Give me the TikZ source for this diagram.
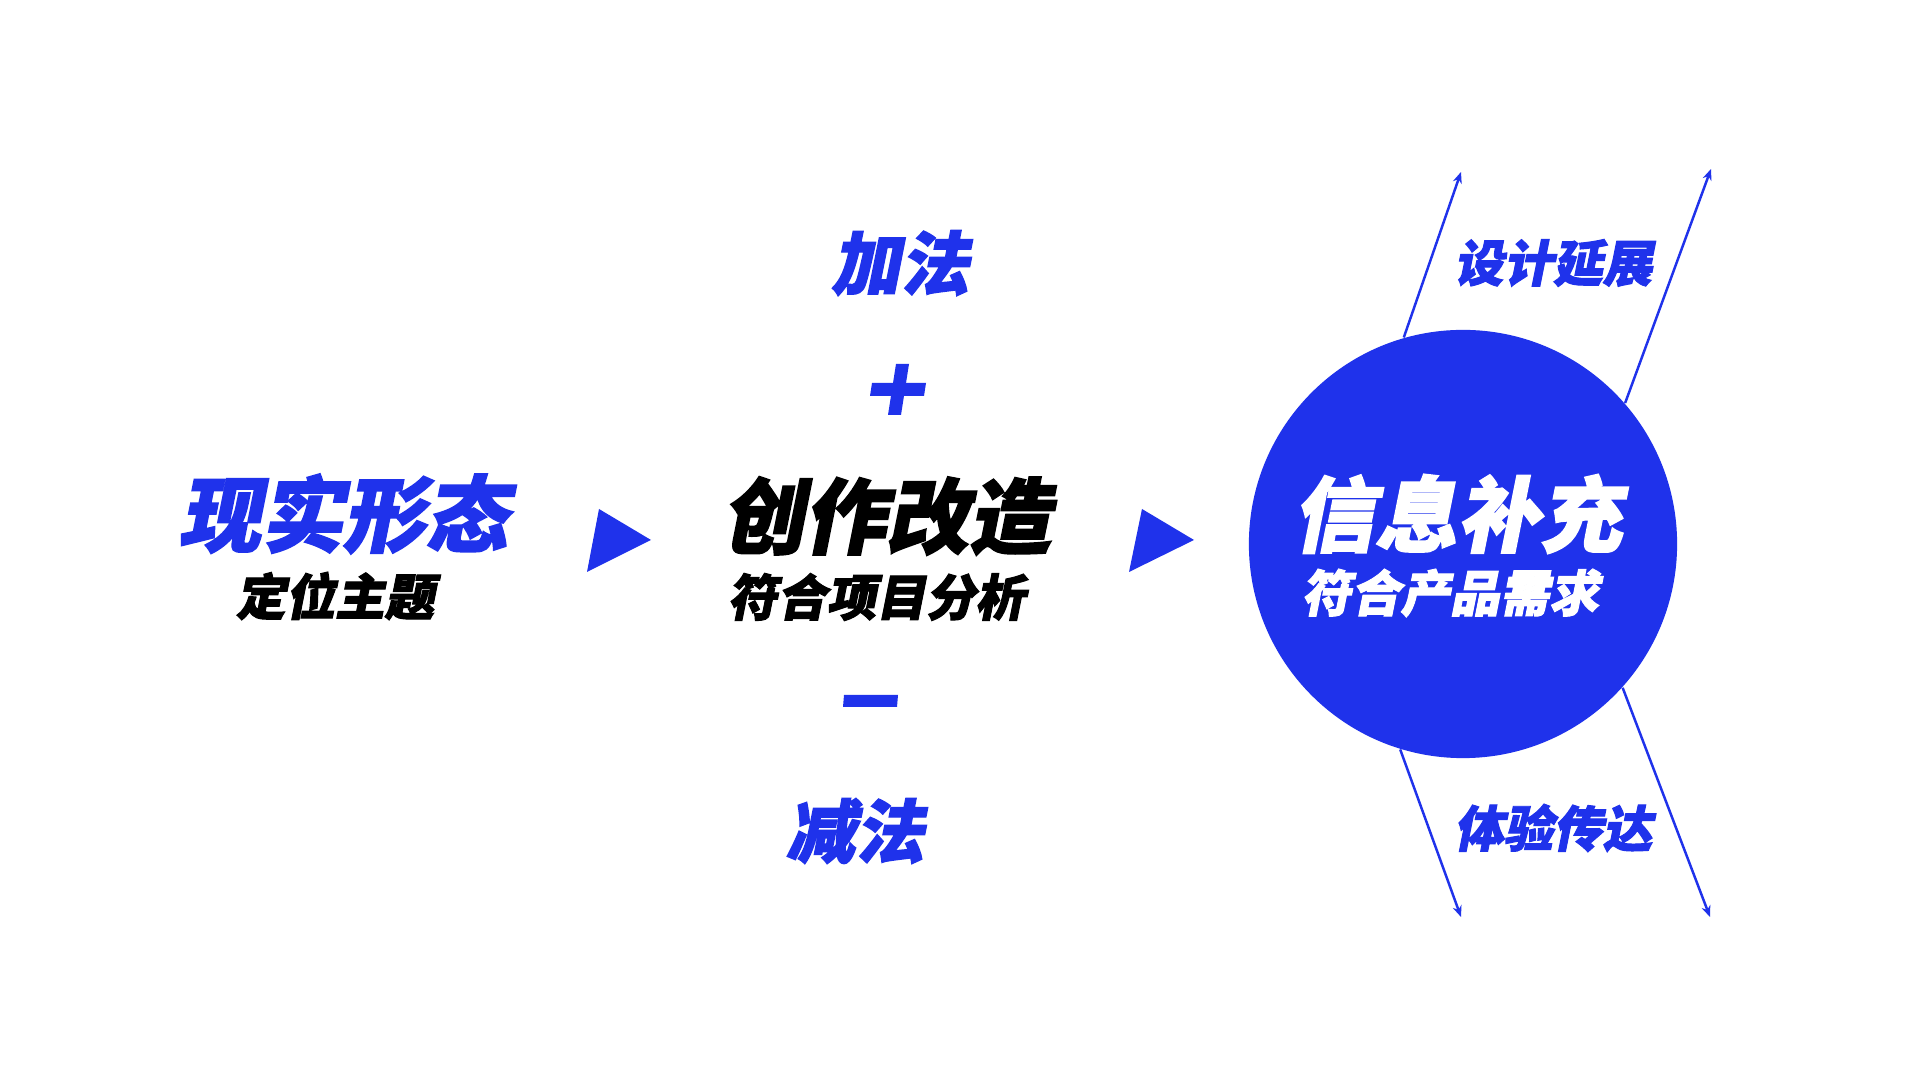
\documentclass[tikz,border=0pt]{standalone}
\usepackage{fontspec}
\newfontfamily\cjk[FakeSlant=0.2,FakeBold=2]{Noto Sans CJK SC}
\usetikzlibrary{arrows.meta}
\definecolor{mainblue}{RGB}{31,50,235}
\tikzset{
  big/.style={font=\cjk\bfseries\fontsize{23.4}{23.4}\selectfont, inner sep=0pt},
  subt/.style={font=\cjk\bfseries\fontsize{14.1}{14.1}\selectfont, inner sep=0pt},
  midt/.style={font=\cjk\bfseries\fontsize{19.6}{19.6}\selectfont, inner sep=0pt, text=mainblue},
  side/.style={font=\cjk\bfseries\fontsize{14.1}{14.1}\selectfont, inner sep=0pt, text=mainblue},
  arr/.style={draw=mainblue, line width=0.7pt, -{Stealth[length=3.2pt,width=2.6pt]}},
  bluefill/.style={fill=mainblue}
}
\begin{document}
\begin{tikzpicture}[x=0.01cm,y=-0.01cm]
\useasboundingbox[fill=white] (0,0) rectangle (1920,1080);
% left block
\node[big, text=mainblue] (real) at (343,514) {现实形态};
\node[subt, text=black] (pos) at (335,596) {定位主题};
\fill[bluefill] (599,509) -- (651,540) -- (587,572) -- cycle;
% middle block
\node[midt] (add) at (900,263) {加法};
\fill[bluefill] (896,364) -- (909,364) -- (901,415) -- (888,415) -- cycle;
\fill[bluefill] (872,383) -- (926,383) -- (924,396) -- (870,396) -- cycle;
\node[big, text=black] (create) at (886,516) {创作改造};
\node[subt, text=black] (proj) at (876,597) {符合项目分析};
\fill[bluefill] (844,695) -- (898,695) -- (897,707) -- (843,707) -- cycle;
\node[midt] (minus) at (855,831) {减法};
\fill[bluefill] (1142,509) -- (1194,540) -- (1129,572) -- cycle;
% right block
\node[circle, fill=mainblue, minimum size=4.28cm, inner sep=0pt] (info) at (1463,544) {};
\node[big, text=white] (infot) at (1457,514) {信息补充};
\node[subt, text=white] (prod) at (1450,593) {符合产品需求};
\coordinate (ul) at (1461,172);
\coordinate (ur) at (1711,169);
\coordinate (ll) at (1461,917);
\coordinate (lr) at (1710,917);
\draw[arr] (info.106.4) -- (ul);
\draw[arr] (info.41.4) -- (ur);
\draw[arr] (info.253.6) -- (ll);
\draw[arr] (info.318.6) -- (lr);
\node[side] (ext) at (1553,263) {设计延展};
\node[side] (exp) at (1553,828) {体验传达};
\end{tikzpicture}
\end{document}
